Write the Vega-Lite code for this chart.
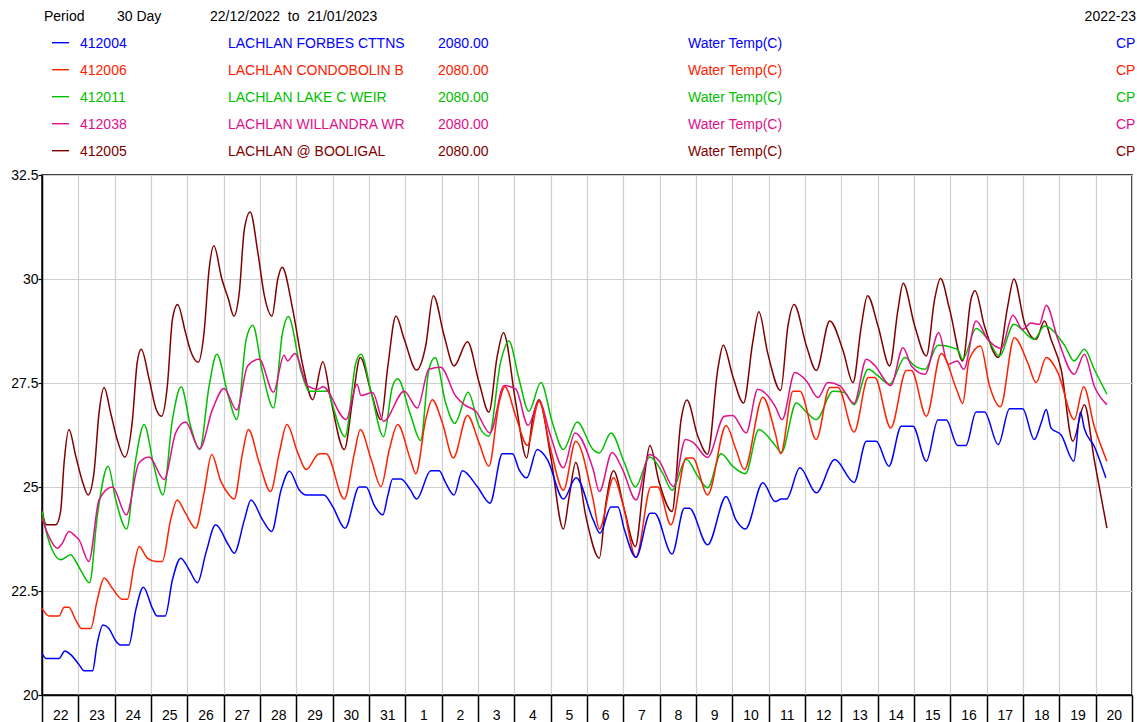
{
  "$schema": "https://vega.github.io/schema/vega-lite/v6.json",
  "background": "white",
  "padding": {"left": 0, "top": 0, "right": 0, "bottom": 0},
  "spacing": 7,
  "config": {
    "font": "Liberation Sans",
    "view": {"stroke": "#000000", "strokeWidth": 1.5}
  },
  "datasets": {
    "header": [
      {"label": "Period", "duration": "30 Day", "range": "22/12/2022\u00a0 to\u00a0 21/01/2023", "season": "2022-23"}
    ],
    "stations": [
      {"id": "412004", "name": "LACHLAN FORBES CTTNS", "elev": "2080.00", "variable": "Water Temp(C)", "code": "CP"},
      {"id": "412006", "name": "LACHLAN CONDOBOLIN B", "elev": "2080.00", "variable": "Water Temp(C)", "code": "CP"},
      {"id": "412011", "name": "LACHLAN LAKE C WEIR", "elev": "2080.00", "variable": "Water Temp(C)", "code": "CP"},
      {"id": "412038", "name": "LACHLAN WILLANDRA WR", "elev": "2080.00", "variable": "Water Temp(C)", "code": "CP"},
      {"id": "412005", "name": "LACHLAN @ BOOLIGAL", "elev": "2080.00", "variable": "Water Temp(C)", "code": "CP"}
    ],
    "temps": [
      {"s":"412005","d":0,"t":24.45},{"s":"412005","d":0.12,"t":24.09},{"s":"412005","d":0.38,"t":24.09},{"s":"412005","d":0.51,"t":24.4},{"s":"412005","d":0.61,"t":25.6},{"s":"412005","d":0.74,"t":26.38},{"s":"412005","d":0.93,"t":25.74},{"s":"412005","d":1.11,"t":25.14},{"s":"412005","d":1.27,"t":24.81},{"s":"412005","d":1.43,"t":25.34},{"s":"412005","d":1.57,"t":26.78},{"s":"412005","d":1.71,"t":27.39},{"s":"412005","d":1.89,"t":26.78},{"s":"412005","d":2.07,"t":26.14},{"s":"412005","d":2.28,"t":25.72},{"s":"412005","d":2.49,"t":26.62},{"s":"412005","d":2.62,"t":27.99},{"s":"412005","d":2.73,"t":28.31},{"s":"412005","d":2.95,"t":27.59},{"s":"412005","d":3.13,"t":26.9},{"s":"412005","d":3.29,"t":26.7},{"s":"412005","d":3.45,"t":27.43},{"s":"412005","d":3.59,"t":29.03},{"s":"412005","d":3.73,"t":29.39},{"s":"412005","d":3.95,"t":28.71},{"s":"412005","d":4.09,"t":28.27},{"s":"412005","d":4.3,"t":28.0},{"s":"412005","d":4.46,"t":28.71},{"s":"412005","d":4.6,"t":30.24},{"s":"412005","d":4.73,"t":30.8},{"s":"412005","d":4.95,"t":30.0},{"s":"412005","d":5.13,"t":29.52},{"s":"412005","d":5.28,"t":29.11},{"s":"412005","d":5.43,"t":29.68},{"s":"412005","d":5.57,"t":31.2},{"s":"412005","d":5.73,"t":31.61},{"s":"412005","d":5.94,"t":30.64},{"s":"412005","d":6.12,"t":29.6},{"s":"412005","d":6.33,"t":29.11},{"s":"412005","d":6.49,"t":30.0},{"s":"412005","d":6.61,"t":30.28},{"s":"412005","d":6.9,"t":29.27},{"s":"412005","d":7.18,"t":27.91},{"s":"412005","d":7.45,"t":27.1},{"s":"412005","d":7.73,"t":28.01},{"s":"412005","d":7.95,"t":27.1},{"s":"412005","d":8.32,"t":25.9},{"s":"412005","d":8.55,"t":27.1},{"s":"412005","d":8.76,"t":28.11},{"s":"412005","d":9.06,"t":27.27},{"s":"412005","d":9.33,"t":26.62},{"s":"412005","d":9.52,"t":27.91},{"s":"412005","d":9.74,"t":29.11},{"s":"412005","d":9.97,"t":28.55},{"s":"412005","d":10.31,"t":27.81},{"s":"412005","d":10.56,"t":28.39},{"s":"412005","d":10.77,"t":29.6},{"s":"412005","d":11.07,"t":28.63},{"s":"412005","d":11.34,"t":27.91},{"s":"412005","d":11.71,"t":28.49},{"s":"412005","d":12.03,"t":27.51},{"s":"412005","d":12.3,"t":26.8},{"s":"412005","d":12.53,"t":28.15},{"s":"412005","d":12.7,"t":28.71},{"s":"412005","d":13.04,"t":27.02},{"s":"412005","d":13.34,"t":25.7},{"s":"412005","d":13.5,"t":26.62},{"s":"412005","d":13.68,"t":27.1},{"s":"412005","d":14.0,"t":25.74},{"s":"412005","d":14.35,"t":23.99},{"s":"412005","d":14.51,"t":24.77},{"s":"412005","d":14.69,"t":25.59},{"s":"412005","d":14.97,"t":24.29},{"s":"412005","d":15.34,"t":23.29},{"s":"412005","d":15.52,"t":24.61},{"s":"412005","d":15.73,"t":25.39},{"s":"412005","d":16.03,"t":24.45},{"s":"412005","d":16.33,"t":23.57},{"s":"412005","d":16.58,"t":25.26},{"s":"412005","d":16.73,"t":26.0},{"s":"412005","d":16.99,"t":25.1},{"s":"412005","d":17.34,"t":24.41},{"s":"412005","d":17.59,"t":26.62},{"s":"412005","d":17.75,"t":27.09},{"s":"412005","d":18.05,"t":26.22},{"s":"412005","d":18.32,"t":25.79},{"s":"412005","d":18.6,"t":27.83},{"s":"412005","d":18.75,"t":28.41},{"s":"412005","d":19.01,"t":27.67},{"s":"412005","d":19.31,"t":27.02},{"s":"412005","d":19.56,"t":28.47},{"s":"412005","d":19.73,"t":29.21},{"s":"412005","d":19.97,"t":28.23},{"s":"412005","d":20.33,"t":27.32},{"s":"412005","d":20.53,"t":28.87},{"s":"412005","d":20.7,"t":29.39},{"s":"412005","d":21.04,"t":28.39},{"s":"412005","d":21.31,"t":27.8},{"s":"412005","d":21.68,"t":28.99},{"s":"412005","d":22.05,"t":28.27},{"s":"412005","d":22.32,"t":27.51},{"s":"412005","d":22.55,"t":28.87},{"s":"412005","d":22.72,"t":29.6},{"s":"412005","d":23.01,"t":28.87},{"s":"412005","d":23.33,"t":27.91},{"s":"412005","d":23.56,"t":29.27},{"s":"412005","d":23.7,"t":29.9},{"s":"412005","d":24.02,"t":28.87},{"s":"412005","d":24.34,"t":28.15},{"s":"412005","d":24.57,"t":29.52},{"s":"412005","d":24.73,"t":30.01},{"s":"412005","d":24.98,"t":29.27},{"s":"412005","d":25.34,"t":28.03},{"s":"412005","d":25.57,"t":29.52},{"s":"412005","d":25.68,"t":29.72},{"s":"412005","d":25.94,"t":28.87},{"s":"412005","d":26.32,"t":28.11},{"s":"412005","d":26.58,"t":29.35},{"s":"412005","d":26.75,"t":30.0},{"s":"412005","d":27.04,"t":28.95},{"s":"412005","d":27.36,"t":28.55},{"s":"412005","d":27.59,"t":28.99},{"s":"412005","d":27.77,"t":28.55},{"s":"412005","d":28.05,"t":27.83},{"s":"412005","d":28.37,"t":26.1},{"s":"412005","d":28.69,"t":26.98},{"s":"412005","d":28.96,"t":25.66},{"s":"412005","d":29.31,"t":24.01},

      {"s":"412011","d":0,"t":24.41},{"s":"412011","d":0.15,"t":23.81},{"s":"412011","d":0.28,"t":23.49},{"s":"412011","d":0.51,"t":23.25},{"s":"412011","d":0.79,"t":23.37},{"s":"412011","d":0.93,"t":23.21},{"s":"412011","d":1.11,"t":22.93},{"s":"412011","d":1.31,"t":22.7},{"s":"412011","d":1.52,"t":24.29},{"s":"412011","d":1.82,"t":25.5},{"s":"412011","d":2.03,"t":24.69},{"s":"412011","d":2.33,"t":23.99},{"s":"412011","d":2.58,"t":25.66},{"s":"412011","d":2.81,"t":26.5},{"s":"412011","d":3.08,"t":25.5},{"s":"412011","d":3.33,"t":24.81},{"s":"412011","d":3.59,"t":26.62},{"s":"412011","d":3.83,"t":27.41},{"s":"412011","d":4.09,"t":26.46},{"s":"412011","d":4.34,"t":25.9},{"s":"412011","d":4.6,"t":27.43},{"s":"412011","d":4.81,"t":28.19},{"s":"412011","d":5.13,"t":27.18},{"s":"412011","d":5.36,"t":26.62},{"s":"412011","d":5.62,"t":28.55},{"s":"412011","d":5.8,"t":28.89},{"s":"412011","d":6.07,"t":27.75},{"s":"412011","d":6.37,"t":26.9},{"s":"412011","d":6.62,"t":28.71},{"s":"412011","d":6.78,"t":29.1},{"s":"412011","d":7.14,"t":27.75},{"s":"412011","d":7.36,"t":27.3},{"s":"412011","d":7.87,"t":27.3},{"s":"412011","d":7.95,"t":27.1},{"s":"412011","d":8.34,"t":26.21},{"s":"412011","d":8.64,"t":27.99},{"s":"412011","d":8.78,"t":28.19},{"s":"412011","d":9.06,"t":27.27},{"s":"412011","d":9.4,"t":26.21},{"s":"412011","d":9.65,"t":27.43},{"s":"412011","d":9.79,"t":27.6},{"s":"412011","d":10.14,"t":26.74},{"s":"412011","d":10.42,"t":26.12},{"s":"412011","d":10.65,"t":27.83},{"s":"412011","d":10.82,"t":28.11},{"s":"412011","d":11.11,"t":27.02},{"s":"412011","d":11.36,"t":26.53},{"s":"412011","d":11.73,"t":27.28},{"s":"412011","d":12.03,"t":26.46},{"s":"412011","d":12.3,"t":26.22},{"s":"412011","d":12.62,"t":27.99},{"s":"412011","d":12.85,"t":28.51},{"s":"412011","d":13.13,"t":27.59},{"s":"412011","d":13.4,"t":26.82},{"s":"412011","d":13.73,"t":27.51},{"s":"412011","d":14.05,"t":26.54},{"s":"412011","d":14.35,"t":25.9},{"s":"412011","d":14.73,"t":26.56},{"s":"412011","d":15.17,"t":25.9},{"s":"412011","d":15.34,"t":25.82},{"s":"412011","d":15.66,"t":26.3},{"s":"412011","d":16.03,"t":25.58},{"s":"412011","d":16.33,"t":25.0},{"s":"412011","d":16.73,"t":25.72},{"s":"412011","d":17.08,"t":25.34},{"s":"412011","d":17.34,"t":24.92},{"s":"412011","d":17.73,"t":25.67},{"s":"412011","d":18.05,"t":25.26},{"s":"412011","d":18.32,"t":24.98},{"s":"412011","d":18.69,"t":25.8},{"s":"412011","d":19.01,"t":25.5},{"s":"412011","d":19.36,"t":25.32},{"s":"412011","d":19.73,"t":26.38},{"s":"412011","d":20.18,"t":26.0},{"s":"412011","d":20.35,"t":25.83},{"s":"412011","d":20.76,"t":27.02},{"s":"412011","d":21.04,"t":26.8},{"s":"412011","d":21.31,"t":26.62},{"s":"412011","d":21.77,"t":27.3},{"s":"412011","d":22.09,"t":27.27},{"s":"412011","d":22.35,"t":26.98},{"s":"412011","d":22.74,"t":27.83},{"s":"412011","d":23.01,"t":27.67},{"s":"412011","d":23.33,"t":27.47},{"s":"412011","d":23.75,"t":28.11},{"s":"412011","d":24.02,"t":27.91},{"s":"412011","d":24.3,"t":27.83},{"s":"412011","d":24.66,"t":28.41},{"s":"412011","d":25.19,"t":28.31},{"s":"412011","d":25.34,"t":28.07},{"s":"412011","d":25.71,"t":28.81},{"s":"412011","d":26.03,"t":28.55},{"s":"412011","d":26.35,"t":28.15},{"s":"412011","d":26.75,"t":28.91},{"s":"412011","d":27.31,"t":28.55},{"s":"412011","d":27.59,"t":28.87},{"s":"412011","d":28.14,"t":28.41},{"s":"412011","d":28.41,"t":28.03},{"s":"412011","d":28.69,"t":28.31},{"s":"412011","d":28.96,"t":27.83},{"s":"412011","d":29.31,"t":27.23},

      {"s":"412038","d":0,"t":24.25},{"s":"412038","d":0.19,"t":23.81},{"s":"412038","d":0.42,"t":23.53},{"s":"412038","d":0.56,"t":23.65},{"s":"412038","d":0.74,"t":23.93},{"s":"412038","d":0.93,"t":23.81},{"s":"412038","d":1.02,"t":23.73},{"s":"412038","d":1.29,"t":23.21},{"s":"412038","d":1.57,"t":24.69},{"s":"412038","d":1.94,"t":25.0},{"s":"412038","d":2.32,"t":24.33},{"s":"412038","d":2.67,"t":25.58},{"s":"412038","d":2.95,"t":25.72},{"s":"412038","d":3.36,"t":25.18},{"s":"412038","d":3.68,"t":26.3},{"s":"412038","d":3.95,"t":26.56},{"s":"412038","d":4.34,"t":25.92},{"s":"412038","d":4.69,"t":26.86},{"s":"412038","d":5.01,"t":27.37},{"s":"412038","d":5.36,"t":26.85},{"s":"412038","d":5.66,"t":27.91},{"s":"412038","d":5.98,"t":28.07},{"s":"412038","d":6.37,"t":27.28},{"s":"412038","d":6.66,"t":28.17},{"s":"412038","d":6.76,"t":28.03},{"s":"412038","d":6.96,"t":28.21},{"s":"412038","d":7.31,"t":27.43},{"s":"412038","d":7.59,"t":27.35},{"s":"412038","d":7.73,"t":27.41},{"s":"412038","d":8.37,"t":26.62},{"s":"412038","d":8.67,"t":27.47},{"s":"412038","d":8.78,"t":27.2},{"s":"412038","d":9.1,"t":27.27},{"s":"412038","d":9.4,"t":26.58},{"s":"412038","d":9.97,"t":27.3},{"s":"412038","d":10.33,"t":26.9},{"s":"412038","d":10.65,"t":27.83},{"s":"412038","d":10.97,"t":27.88},{"s":"412038","d":11.39,"t":27.18},{"s":"412038","d":11.62,"t":26.98},{"s":"412038","d":11.94,"t":26.82},{"s":"412038","d":12.33,"t":26.3},{"s":"412038","d":12.72,"t":27.44},{"s":"412038","d":13.04,"t":27.35},{"s":"412038","d":13.38,"t":26.48},{"s":"412038","d":13.68,"t":27.06},{"s":"412038","d":14.0,"t":26.22},{"s":"412038","d":14.35,"t":25.46},{"s":"412038","d":14.67,"t":26.3},{"s":"412038","d":15.17,"t":25.42},{"s":"412038","d":15.34,"t":24.89},{"s":"412038","d":15.69,"t":25.83},{"s":"412038","d":15.98,"t":25.42},{"s":"412038","d":16.35,"t":24.69},{"s":"412038","d":16.72,"t":25.78},{"s":"412038","d":16.99,"t":25.62},{"s":"412038","d":17.38,"t":25.01},{"s":"412038","d":17.71,"t":26.14},{"s":"412038","d":17.91,"t":26.08},{"s":"412038","d":18.32,"t":25.71},{"s":"412038","d":18.78,"t":26.7},{"s":"412038","d":19.01,"t":26.72},{"s":"412038","d":19.38,"t":26.3},{"s":"412038","d":19.7,"t":27.35},{"s":"412038","d":20.18,"t":26.94},{"s":"412038","d":20.37,"t":26.62},{"s":"412038","d":20.72,"t":27.75},{"s":"412038","d":21.04,"t":27.55},{"s":"412038","d":21.36,"t":27.15},{"s":"412038","d":21.63,"t":27.51},{"s":"412038","d":21.96,"t":27.43},{"s":"412038","d":22.35,"t":27.01},{"s":"412038","d":22.69,"t":28.07},{"s":"412038","d":22.92,"t":27.92},{"s":"412038","d":23.36,"t":27.44},{"s":"412038","d":23.7,"t":28.35},{"s":"412038","d":23.93,"t":27.91},{"s":"412038","d":24.3,"t":27.71},{"s":"412038","d":24.68,"t":28.71},{"s":"412038","d":24.94,"t":27.95},{"s":"412038","d":25.19,"t":28.03},{"s":"412038","d":25.37,"t":27.83},{"s":"412038","d":25.71,"t":28.99},{"s":"412038","d":26.03,"t":28.55},{"s":"412038","d":26.4,"t":28.33},{"s":"412038","d":26.72,"t":29.13},{"s":"412038","d":26.99,"t":28.79},{"s":"412038","d":27.22,"t":28.94},{"s":"412038","d":27.45,"t":28.91},{"s":"412038","d":27.64,"t":29.37},{"s":"412038","d":27.96,"t":28.55},{"s":"412038","d":28.41,"t":27.71},{"s":"412038","d":28.69,"t":28.19},{"s":"412038","d":28.96,"t":27.43},{"s":"412038","d":29.31,"t":26.98},

      {"s":"412006","d":0,"t":22.08},{"s":"412006","d":0.19,"t":21.9},{"s":"412006","d":0.47,"t":21.9},{"s":"412006","d":0.61,"t":22.11},{"s":"412006","d":0.74,"t":22.11},{"s":"412006","d":0.93,"t":21.8},{"s":"412006","d":1.09,"t":21.6},{"s":"412006","d":1.34,"t":21.6},{"s":"412006","d":1.52,"t":22.28},{"s":"412006","d":1.71,"t":22.81},{"s":"412006","d":1.94,"t":22.56},{"s":"412006","d":2.21,"t":22.3},{"s":"412006","d":2.35,"t":22.3},{"s":"412006","d":2.53,"t":23.09},{"s":"412006","d":2.67,"t":23.57},{"s":"412006","d":2.9,"t":23.29},{"s":"412006","d":3.13,"t":23.21},{"s":"412006","d":3.31,"t":23.21},{"s":"412006","d":3.54,"t":24.21},{"s":"412006","d":3.72,"t":24.69},{"s":"412006","d":3.95,"t":24.37},{"s":"412006","d":4.23,"t":24.01},{"s":"412006","d":4.46,"t":24.86},{"s":"412006","d":4.67,"t":25.78},{"s":"412006","d":4.92,"t":25.14},{"s":"412006","d":5.13,"t":24.83},{"s":"412006","d":5.29,"t":24.71},{"s":"412006","d":5.52,"t":25.82},{"s":"412006","d":5.68,"t":26.38},{"s":"412006","d":5.98,"t":25.58},{"s":"412006","d":6.29,"t":24.89},{"s":"412006","d":6.53,"t":25.82},{"s":"412006","d":6.74,"t":26.5},{"s":"412006","d":7.04,"t":25.82},{"s":"412006","d":7.27,"t":25.42},{"s":"412006","d":7.63,"t":25.8},{"s":"412006","d":7.82,"t":25.8},{"s":"412006","d":8.32,"t":24.71},{"s":"412006","d":8.6,"t":25.82},{"s":"412006","d":8.76,"t":26.38},{"s":"412006","d":9.06,"t":25.66},{"s":"412006","d":9.33,"t":25.01},{"s":"412006","d":9.56,"t":25.9},{"s":"412006","d":9.79,"t":26.5},{"s":"412006","d":10.14,"t":25.66},{"s":"412006","d":10.29,"t":25.32},{"s":"412006","d":10.56,"t":26.62},{"s":"412006","d":10.74,"t":27.1},{"s":"412006","d":11.02,"t":26.54},{"s":"412006","d":11.32,"t":25.7},{"s":"412006","d":11.71,"t":26.72},{"s":"412006","d":12.03,"t":26.06},{"s":"412006","d":12.3,"t":25.5},{"s":"412006","d":12.58,"t":27.02},{"s":"412006","d":12.74,"t":27.41},{"s":"412006","d":13.04,"t":26.7},{"s":"412006","d":13.36,"t":26.0},{"s":"412006","d":13.68,"t":27.06},{"s":"412006","d":14.0,"t":25.9},{"s":"412006","d":14.35,"t":24.92},{"s":"412006","d":14.69,"t":26.1},{"s":"412006","d":15.17,"t":24.69},{"s":"412006","d":15.34,"t":23.99},{"s":"412006","d":15.73,"t":25.22},{"s":"412006","d":15.98,"t":24.61},{"s":"412006","d":16.35,"t":23.31},{"s":"412006","d":16.76,"t":25.0},{"s":"412006","d":16.95,"t":25.0},{"s":"412006","d":17.31,"t":24.09},{"s":"412006","d":17.73,"t":25.7},{"s":"412006","d":17.91,"t":25.7},{"s":"412006","d":18.32,"t":24.81},{"s":"412006","d":18.83,"t":26.48},{"s":"412006","d":19.1,"t":25.9},{"s":"412006","d":19.33,"t":25.42},{"s":"412006","d":19.84,"t":27.16},{"s":"412006","d":20.18,"t":26.3},{"s":"412006","d":20.33,"t":25.8},{"s":"412006","d":20.67,"t":27.3},{"s":"412006","d":20.86,"t":27.3},{"s":"412006","d":21.31,"t":26.14},{"s":"412006","d":21.68,"t":27.39},{"s":"412006","d":21.91,"t":27.39},{"s":"412006","d":22.35,"t":26.32},{"s":"412006","d":22.74,"t":27.63},{"s":"412006","d":22.92,"t":27.63},{"s":"412006","d":23.36,"t":26.42},{"s":"412006","d":23.79,"t":27.8},{"s":"412006","d":23.93,"t":27.8},{"s":"412006","d":24.34,"t":26.7},{"s":"412006","d":24.75,"t":28.21},{"s":"412006","d":25.19,"t":27.3},{"s":"412006","d":25.34,"t":27.01},{"s":"412006","d":25.52,"t":28.07},{"s":"412006","d":25.83,"t":28.39},{"s":"412006","d":26.08,"t":27.43},{"s":"412006","d":26.38,"t":26.93},{"s":"412006","d":26.76,"t":28.59},{"s":"412006","d":27.13,"t":27.99},{"s":"412006","d":27.36,"t":27.51},{"s":"412006","d":27.64,"t":28.11},{"s":"412006","d":27.96,"t":27.75},{"s":"412006","d":28.41,"t":26.62},{"s":"412006","d":28.67,"t":27.41},{"s":"412006","d":28.96,"t":26.46},{"s":"412006","d":29.31,"t":25.62},

      {"s":"412004","d":0,"t":21.0},{"s":"412004","d":0.11,"t":20.88},{"s":"412004","d":0.47,"t":20.88},{"s":"412004","d":0.63,"t":21.06},{"s":"412004","d":0.79,"t":20.97},{"s":"412004","d":1.02,"t":20.73},{"s":"412004","d":1.16,"t":20.58},{"s":"412004","d":1.39,"t":20.58},{"s":"412004","d":1.52,"t":21.24},{"s":"412004","d":1.68,"t":21.68},{"s":"412004","d":1.84,"t":21.6},{"s":"412004","d":2.03,"t":21.3},{"s":"412004","d":2.17,"t":21.2},{"s":"412004","d":2.39,"t":21.2},{"s":"412004","d":2.58,"t":22.04},{"s":"412004","d":2.79,"t":22.59},{"s":"412004","d":3.04,"t":22.08},{"s":"412004","d":3.17,"t":21.9},{"s":"412004","d":3.39,"t":21.9},{"s":"412004","d":3.59,"t":22.77},{"s":"412004","d":3.82,"t":23.29},{"s":"412004","d":4.05,"t":23.01},{"s":"412004","d":4.28,"t":22.7},{"s":"412004","d":4.51,"t":23.41},{"s":"412004","d":4.78,"t":24.09},{"s":"412004","d":5.13,"t":23.61},{"s":"412004","d":5.29,"t":23.41},{"s":"412004","d":5.57,"t":24.21},{"s":"412004","d":5.75,"t":24.69},{"s":"412004","d":6.07,"t":24.21},{"s":"412004","d":6.32,"t":23.93},{"s":"412004","d":6.58,"t":24.93},{"s":"412004","d":6.81,"t":25.38},{"s":"412004","d":7.08,"t":24.93},{"s":"412004","d":7.27,"t":24.81},{"s":"412004","d":7.76,"t":24.81},{"s":"412004","d":8.0,"t":24.53},{"s":"412004","d":8.34,"t":24.01},{"s":"412004","d":8.73,"t":25.0},{"s":"412004","d":8.92,"t":25.0},{"s":"412004","d":9.15,"t":24.55},{"s":"412004","d":9.38,"t":24.33},{"s":"412004","d":9.52,"t":24.8},{"s":"412004","d":9.65,"t":25.19},{"s":"412004","d":9.88,"t":25.19},{"s":"412004","d":10.14,"t":24.93},{"s":"412004","d":10.31,"t":24.71},{"s":"412004","d":10.7,"t":25.39},{"s":"412004","d":10.93,"t":25.39},{"s":"412004","d":11.11,"t":25.1},{"s":"412004","d":11.34,"t":24.81},{"s":"412004","d":11.57,"t":25.39},{"s":"412004","d":11.98,"t":25.01},{"s":"412004","d":12.33,"t":24.61},{"s":"412004","d":12.67,"t":25.8},{"s":"412004","d":12.95,"t":25.8},{"s":"412004","d":13.13,"t":25.42},{"s":"412004","d":13.34,"t":25.22},{"s":"412004","d":13.63,"t":25.9},{"s":"412004","d":13.91,"t":25.66},{"s":"412004","d":14.35,"t":24.71},{"s":"412004","d":14.7,"t":25.22},{"s":"412004","d":15.17,"t":24.21},{"s":"412004","d":15.36,"t":23.89},{"s":"412004","d":15.66,"t":24.52},{"s":"412004","d":15.85,"t":24.52},{"s":"412004","d":16.03,"t":23.97},{"s":"412004","d":16.35,"t":23.31},{"s":"412004","d":16.74,"t":24.37},{"s":"412004","d":16.86,"t":24.37},{"s":"412004","d":17.34,"t":23.39},{"s":"412004","d":17.68,"t":24.49},{"s":"412004","d":17.82,"t":24.49},{"s":"412004","d":18.32,"t":23.61},{"s":"412004","d":18.83,"t":24.77},{"s":"412004","d":19.1,"t":24.21},{"s":"412004","d":19.36,"t":23.99},{"s":"412004","d":19.84,"t":25.1},{"s":"412004","d":20.18,"t":24.65},{"s":"412004","d":20.35,"t":24.71},{"s":"412004","d":20.49,"t":24.71},{"s":"412004","d":20.86,"t":25.46},{"s":"412004","d":21.31,"t":24.86},{"s":"412004","d":21.82,"t":25.66},{"s":"412004","d":22.35,"t":25.11},{"s":"412004","d":22.69,"t":26.1},{"s":"412004","d":22.96,"t":26.1},{"s":"412004","d":23.31,"t":25.5},{"s":"412004","d":23.65,"t":26.46},{"s":"412004","d":23.97,"t":26.46},{"s":"412004","d":24.34,"t":25.62},{"s":"412004","d":24.66,"t":26.61},{"s":"412004","d":24.89,"t":26.61},{"s":"412004","d":25.2,"t":26.0},{"s":"412004","d":25.43,"t":26.0},{"s":"412004","d":25.71,"t":26.8},{"s":"412004","d":25.94,"t":26.8},{"s":"412004","d":26.32,"t":26.02},{"s":"412004","d":26.63,"t":26.88},{"s":"412004","d":26.99,"t":26.88},{"s":"412004","d":27.31,"t":26.14},{"s":"412004","d":27.5,"t":26.54},{"s":"412004","d":27.64,"t":26.86},{"s":"412004","d":27.77,"t":26.42},{"s":"412004","d":28.05,"t":26.25},{"s":"412004","d":28.4,"t":25.62},{"s":"412004","d":28.58,"t":26.8},{"s":"412004","d":28.69,"t":26.4},{"s":"412004","d":28.96,"t":25.98},{"s":"412004","d":29.28,"t":25.22}
    ]
  },
  "vconcat": [
    {
      "width": 1090,
      "height": 160,
      "view": {"stroke": null},
      "layer": [
        {
          "data": {"name": "header"},
          "mark": {"type": "text", "align": "left", "baseline": "alphabetic", "fontSize": 14, "color": "#000000"},
          "encoding": {
            "x": {"value": 2},
            "y": {"datum": "period", "type": "nominal", "scale": {"type": "point", "domain": ["period", "412004", "412006", "412011", "412038", "412005"], "padding": 0.463, "align": 0.828}, "axis": null},
            "text": {"field": "label"}
          }
        },
        {
          "data": {"name": "header"},
          "mark": {"type": "text", "align": "left", "baseline": "alphabetic", "fontSize": 14, "color": "#000000"},
          "encoding": {
            "x": {"value": 75},
            "y": {"datum": "period", "type": "nominal"},
            "text": {"field": "duration"}
          }
        },
        {
          "data": {"name": "header"},
          "mark": {"type": "text", "align": "left", "baseline": "alphabetic", "fontSize": 14, "color": "#000000"},
          "encoding": {
            "x": {"value": 168},
            "y": {"datum": "period", "type": "nominal"},
            "text": {"field": "range"}
          }
        },
        {
          "data": {"name": "header"},
          "mark": {"type": "text", "align": "right", "baseline": "alphabetic", "fontSize": 14, "color": "#000000"},
          "encoding": {
            "x": {"value": 1094},
            "y": {"datum": "period", "type": "nominal"},
            "text": {"field": "season"}
          }
        },
        {
          "data": {"name": "stations"},
          "mark": {"type": "rule", "strokeWidth": 1.4, "yOffset": -5},
          "encoding": {
            "x": {"value": 10},
            "x2": {"value": 27},
            "y": {"field": "id", "type": "nominal"},
            "color": {"field": "id", "type": "nominal", "scale": {"domain": ["412004", "412006", "412011", "412038", "412005"], "range": ["#0000ff", "#ff2000", "#00c000", "#e0108a", "#800000"]}, "legend": null}
          }
        },
        {
          "data": {"name": "stations"},
          "mark": {"type": "text", "align": "left", "baseline": "alphabetic", "fontSize": 14},
          "encoding": {
            "x": {"value": 38},
            "y": {"field": "id", "type": "nominal"},
            "text": {"field": "id"},
            "color": {"field": "id", "type": "nominal", "legend": null}
          }
        },
        {
          "data": {"name": "stations"},
          "mark": {"type": "text", "align": "left", "baseline": "alphabetic", "fontSize": 14},
          "encoding": {
            "x": {"value": 186},
            "y": {"field": "id", "type": "nominal"},
            "text": {"field": "name"},
            "color": {"field": "id", "type": "nominal", "legend": null}
          }
        },
        {
          "data": {"name": "stations"},
          "mark": {"type": "text", "align": "left", "baseline": "alphabetic", "fontSize": 14},
          "encoding": {
            "x": {"value": 396},
            "y": {"field": "id", "type": "nominal"},
            "text": {"field": "elev"},
            "color": {"field": "id", "type": "nominal", "legend": null}
          }
        },
        {
          "data": {"name": "stations"},
          "mark": {"type": "text", "align": "left", "baseline": "alphabetic", "fontSize": 14},
          "encoding": {
            "x": {"value": 646},
            "y": {"field": "id", "type": "nominal"},
            "text": {"field": "variable"},
            "color": {"field": "id", "type": "nominal", "legend": null}
          }
        },
        {
          "data": {"name": "stations"},
          "mark": {"type": "text", "align": "left", "baseline": "alphabetic", "fontSize": 14},
          "encoding": {
            "x": {"value": 1074},
            "y": {"field": "id", "type": "nominal"},
            "text": {"field": "code"},
            "color": {"field": "id", "type": "nominal", "legend": null}
          }
        }
      ]
    },
    {
      "width": 1090,
      "height": 520,
      "data": {"name": "temps"},
      "mark": {"type": "line", "strokeWidth": 1.5, "interpolate": "monotone"},
      "encoding": {
        "x": {
          "field": "d", "type": "quantitative",
          "scale": {"domain": [0, 30], "nice": false, "zero": false},
          "axis": {
            "title": null,
            "values": [0,1,2,3,4,5,6,7,8,9,10,11,12,13,14,15,16,17,18,19,20,21,22,23,24,25,26,27,28,29,30],
            "grid": true, "gridColor": "#cfcfcf", "gridWidth": 1.2,
            "domainColor": "#000000", "domainWidth": 1.5,
            "tickColor": "#000000", "tickSize": 27, "tickWidth": 1.5,
            "labelExpr": "datum.value >= 30 ? '' : toString(datum.value < 10 ? datum.value + 22 : datum.value - 9)",
            "labelOffset": 18.17, "labelAlign": "center", "labelFlush": false, "labelOverlap": false,
            "labelBaseline": "alphabetic", "labelPadding": -3,
            "labelFontSize": 14, "labelColor": "#000000", "labelFont": "Liberation Sans"
          }
        },
        "y": {
          "field": "t", "type": "quantitative",
          "scale": {"domain": [20, 32.5], "nice": false, "zero": false},
          "axis": {
            "title": null,
            "values": [20, 22.5, 25, 27.5, 30, 32.5],
            "format": ".1~f",
            "grid": true, "gridColor": "#cfcfcf", "gridWidth": 1.2,
            "domainColor": "#000000", "domainWidth": 1.5,
            "tickColor": "#000000", "tickSize": 4, "tickWidth": 1.2,
            "labelPadding": 0, "minExtent": 41,
            "labelFontSize": 14, "labelColor": "#000000", "labelFont": "Liberation Sans"
          }
        },
        "color": {"field": "s", "type": "nominal", "scale": {"domain": ["412004", "412006", "412011", "412038", "412005"], "range": ["#0000ff", "#ff2000", "#00c000", "#e0108a", "#800000"]}, "legend": null}
      }
    }
  ]
}
